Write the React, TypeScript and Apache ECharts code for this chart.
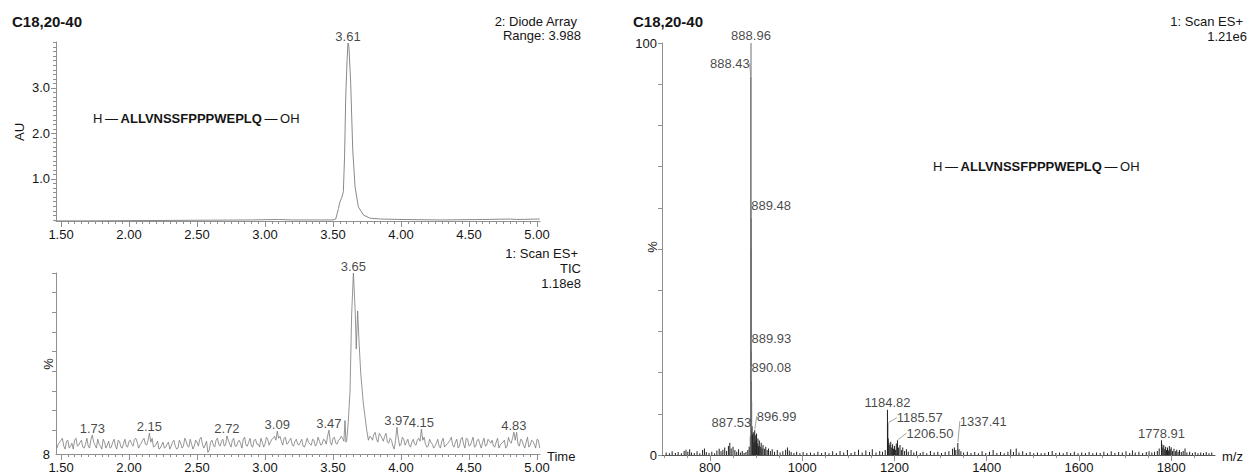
import React, { useEffect, useRef } from 'react';
import * as echarts from 'echarts';

const FONT = '"Liberation Sans", Arial, Helvetica, sans-serif';

// ---------- Top-left: Diode array (AU vs time) ----------
const dadTrace: [number, number][] = [
  [1.47, 0.08], [1.7, 0.08], [2.0, 0.085], [2.3, 0.09], [2.6, 0.095], [2.9, 0.1], [3.1, 0.11],
  [3.2, 0.1], [3.4, 0.1], [3.5, 0.1], [3.52, 0.12], [3.54, 0.35], [3.551, 0.5], [3.565, 0.6],
  [3.576, 0.72], [3.585, 1.5], [3.593, 2.74], [3.603, 3.6], [3.61, 3.988], [3.617, 3.9],
  [3.63, 3.1], [3.645, 1.64], [3.662, 0.83], [3.686, 0.39], [3.723, 0.21], [3.77, 0.14],
  [3.85, 0.12], [4.0, 0.11], [4.3, 0.1], [4.6, 0.11], [4.8, 0.12], [4.85, 0.11], [5.02, 0.12],
];
const dadApex: [number, number][] = [[3.61, 3.988]];

// ---------- Bottom-left: TIC (% vs time) ----------
// even hundredths, from 1.48 in steps of 0.02
const ticEvenStart = 1.48;
const ticEven: (number | null)[] = [
  13, 15, 12, 14.5, 11, 13.5, 15, 12, 14, 11.5,
  13, 12, 15.5, 14, 11, 13, 10.5, 14, 12.5, 11,
  14, 12, 15, 11.5, 13.5, 12, 14.5, 13, 15.5, 14,
  12.5, 15, 13, 15, 14, 11.5, 13, 10.5, 12.5, 11,
  13, 10.5, 14, 12, 11, 13.5, 12, 14.5, 11.5, 13,
  12, 14, 15.5, 13, 12.5, 8.8, 14, 12.5, 15, 13,
  14.5, 12, 16.5, 13, 15, 12, 14, 13.5, 15.5, 12.5,
  14, 12, 15, 13, 11.5, 14, 13, 15.5, 14, 16,
  15, 16, 14.5, 16, 13, 15, 12.5, 14.5, 13, 14,
  12, 13.5, 14, 12.5, 15, 13, 14.5, 13, 15, 17,
  14, 16, 13.5, 15, 17, 14.5, null, null, null, null,
  null, null, null, null, null, 16.5, 18, 15.5, 18.5, 16,
  17, 14, 16, 12, 15, 16, 13, 15.5, 14, 12.5,
  14, 13, 15, 14.5, 15, 13, 12, 14, 11, 13.5,
  12, 14.5, 11.5, 13, 15, 12.5, 14, 11, 15.5, 13,
  16, 12, 14.5, 11.5, 15, 13, 14, 12, 15.5, 13.5,
  12, 14, 11, 13.5, 15, 12, 14.5, 16, 15, 13,
  15.5, 12.5, 14, 11.5, 15, 13, 15.5, 11,
];
// odd hundredths, from 1.47 in steps of 0.02
const ticOddStart = 1.47;
const ticOdd: (number | null)[] = [
  11, 14, 16, 10.5, 15, 12, 10.5, 16, 12.5, 15,
  11, 16, 11, 15, 12.5, 15.5, 12, 15.5, 11, 14.5,
  11.5, 15.5, 10.5, 14.5, 11, 15.5, 11.5, 15, 12, 16,
  11, 13.5, 16, 12.5, 15, 16, 12, 14.5, 11, 14,
  11.5, 14, 12, 15, 10.5, 15, 11, 16, 12, 15.5,
  10.5, 15, 12, 16.5, 11, 14.5, 10, 15, 11.5, 16,
  12, 15.5, 12.5, 15, 11.5, 16, 12, 15, 11, 16.5,
  12, 16, 11.5, 15.5, 13, 16, 11.5, 16.5, 12.5, 15.5,
  17, 13, 17, 12.5, 16.5, 13.5, 16, 12, 15.5, 12.5,
  15.5, 11.5, 16, 13, 15.5, 12, 16.5, 12.5, 15.5, 13,
  15, 12.5, 16.5, 13, 15.5, 16, null, null, null, null,
  null, null, null, null, null, null, 15, 19, 14, 17.5,
  14.5, 18.5, 13.5, 15, 10.5, 20, 12, 16.5, 12.5, 15.5,
  11.5, 15.5, 12.5, 16, 13, 16.5, 11.5, 15.5, 13, 12,
  15.5, 11, 16, 12.5, 14, 16.5, 11.5, 15.5, 12, 16.5,
  11, 15.5, 12.5, 16.5, 12, 15.5, 11, 16, 12.5, 14.5,
  15, 11.5, 16, 12.5, 14, 11, 16.5, 13.5, 17, 19,
  12, 15, 11, 16.5, 12.5, 14.5, 11, 15,
];
const ticTimeStep = 0.02;
const ticPeakShape: [number, number][] = [
  [3.588, 25], [3.595, 14], [3.601, 15], [3.612, 24], [3.625, 40], [3.637, 79],
  [3.664, 79], [3.671, 61.4], [3.681, 80.7], [3.691, 65.6], [3.704, 48.8],
  [3.723, 33.6], [3.748, 20.1], [3.76, 15], [3.77, 17],
];
const ticApex: [number, number][] = [
  [1.73, 17.6], [2.15, 18.6], [2.72, 17.2], [3.09, 19.6], [3.47, 20.1],
  [3.65, 100], [3.97, 21.6], [4.15, 20.6], [4.83, 19.1],
];

// ---------- Right: mass spectrum (% vs m/z) ----------
const msPeaks: [number, number][] = [
  [705, 0.6], [712, 0.4], [718, 0.9], [725, 0.5], [731, 0.7], [738, 0.4], [744, 1.0], [748, 1.3],
  [752, 0.8], [756, 1.4], [760, 0.6], [766, 0.5], [772, 0.9], [778, 0.4], [784, 1.2], [788, 1.6],
  [792, 0.7], [798, 0.5], [804, 0.8], [810, 0.4], [815, 1.1], [820, 1.5], [824, 0.9], [828, 1.3],
  [832, 1.8], [836, 1.0], [840, 2.2], [843, 3.0], [846, 1.6], [850, 2.0], [854, 1.2], [858, 0.8],
  [862, 1.4], [866, 0.6], [870, 1.0], [874, 0.5], [878, 0.7], [882, 1.2], [885, 2.0],
  [887.53, 4.4], [888.43, 91.7], [888.96, 100], [889.1, 50], [889.48, 57.5], [889.93, 25],
  [890.08, 17.7], [890.4, 13], [891.2, 7], [892.5, 5], [894, 5.5], [895.5, 3], [896.99, 6],
  [898.2, 4.8], [899.5, 3.5], [901, 5.2], [902.5, 2.8], [904, 4], [905.5, 2.2], [907, 3.5],
  [909, 2], [911, 3], [913, 1.6], [915, 2.4], [918, 1.5], [921, 2], [924, 1.2], [927, 1.6],
  [931, 1], [935, 1.4], [940, 0.8], [946, 1.2], [952, 0.6], [958, 0.9], [964, 1.3], [968, 1.8],
  [972, 1.1], [976, 0.7], [982, 0.5], [988, 0.8], [995, 0.4], [1002, 0.7], [1010, 0.5],
  [1018, 0.6], [1026, 0.4], [1034, 0.8], [1042, 0.5], [1050, 0.7], [1058, 0.4], [1066, 0.9],
  [1074, 0.5], [1082, 1.0], [1090, 0.6], [1098, 1.2], [1106, 0.5], [1114, 0.8], [1122, 1.3],
  [1130, 0.6], [1138, 1.1], [1146, 0.7], [1152, 1.4], [1160, 0.6], [1168, 1.0], [1174, 0.8],
  [1180, 1.2], [1184.82, 11], [1185.57, 7.8], [1186.5, 4], [1188, 3], [1190, 2.4], [1192, 3.2],
  [1194, 1.8], [1196, 2.6], [1198, 1.5], [1200, 2.2], [1202, 1.3], [1204, 2.8], [1206.5, 3.6],
  [1209, 1.8], [1212, 2.4], [1215, 1.2], [1218, 1.8], [1222, 1], [1226, 1.4], [1230, 0.8],
  [1236, 1.2], [1242, 0.6], [1248, 0.9], [1256, 0.5], [1262, 0.8], [1270, 0.4], [1278, 1.0],
  [1286, 0.6], [1294, 0.8], [1302, 0.5], [1310, 0.7], [1318, 0.9], [1326, 1.5], [1330, 1.8],
  [1333, 1.2], [1337.41, 2.9], [1340, 1.4], [1344, 0.9], [1350, 0.6], [1358, 0.8], [1366, 0.5],
  [1374, 0.7], [1382, 0.4], [1390, 0.9], [1398, 0.5], [1406, 0.8], [1414, 1.2], [1422, 0.5],
  [1430, 0.7], [1438, 0.4], [1446, 0.8], [1452, 1.4], [1458, 0.7], [1464, 1.6], [1470, 0.6],
  [1478, 0.9], [1486, 0.5], [1494, 0.7], [1502, 0.4], [1510, 0.6], [1518, 0.4], [1526, 0.5],
  [1534, 0.7], [1542, 1.0], [1550, 0.5], [1558, 0.6], [1566, 0.4], [1574, 0.7], [1582, 0.5],
  [1590, 0.8], [1598, 0.4], [1606, 0.6], [1614, 0.5], [1622, 0.7], [1630, 0.4], [1638, 0.6],
  [1646, 0.5], [1654, 0.8], [1662, 0.4], [1670, 0.9], [1678, 0.5], [1686, 0.7], [1694, 0.6],
  [1702, 0.9], [1710, 0.5], [1716, 1.1], [1722, 0.6], [1730, 0.8], [1738, 0.5], [1746, 0.7],
  [1752, 0.9], [1758, 0.6], [1764, 0.8], [1770, 1.0], [1774, 1.6], [1778.91, 3.6], [1780, 2.6],
  [1782, 1.8], [1784, 2.4], [1786, 1.4], [1788, 2], [1790, 1.2], [1792, 1.8], [1794, 1.1],
  [1796, 2.2], [1798, 1.4], [1800, 1.9], [1803, 1.0], [1806, 1.5], [1809, 0.9], [1812, 1.3],
  [1815, 0.8], [1818, 1.2], [1822, 0.7], [1826, 1.0], [1830, 1.6], [1834, 0.6], [1840, 0.8],
  [1846, 0.5], [1852, 0.7], [1858, 0.4], [1864, 0.6], [1870, 0.5], [1876, 0.7], [1882, 0.4],
  [1888, 0.6],
];
const msLabelled = [888.96, 888.43, 889.48, 889.93, 890.08, 887.53, 896.99, 1184.82, 1185.57, 1206.5, 1337.41, 1778.91];

// ---------- axis ticks / labels ----------
const timeMajor = [1.5, 2.0, 2.5, 3.0, 3.5, 4.0, 4.5, 5.0];
const auLabels = [1, 2, 3];
const ticPctTicks = [20, 30, 40, 50, 60, 70, 80, 90, 100];
const ticPctLabels = [8];
const msPctTicks = [0, 10, 20, 30, 40, 50, 60, 70, 80, 90, 100];
const msPctLabels = [0, 100];
const mzMajor = [800, 1000, 1200, 1400, 1600, 1800];

// ---------- layout (not data) ----------
const MS_LABEL_LAYOUT = [
  { align: 'center', dx: 0, dy: -8, line: false },
  { align: 'right', dx: -1, dy: -14, line: true },
  { align: 'left', dx: 0, dy: -13, line: true },
  { align: 'left', dx: 0, dy: -14, line: true },
  { align: 'left', dx: 0, dy: -15, line: true },
  { align: 'right', dx: 1, dy: -14, line: true },
  { align: 'left', dx: 2, dy: -14, line: true },
  { align: 'center', dx: 0, dy: -7, line: false },
  { align: 'left', dx: 9, dy: -5, line: true },
  { align: 'left', dx: 9, dy: -7, line: true },
  { align: 'left', dx: 2, dy: -22, line: true },
  { align: 'center', dx: 0, dy: -7, line: false },
];

function steps(a: number, b: number, s: number): number[] {
  const out: number[] = [];
  const n = Math.round((b - a) / s);
  for (let i = 0; i <= n; i++) out.push(Math.round((a + i * s) * 1000) / 1000);
  return out;
}

const AXIS_COLOR = '#8f8f8f';
const TEXT_COLOR = '#151515';
const PEPTIDE = '{r|H\u2009—\u2009}{b|ALLVNSSFPPPWEPLQ}{r|\u2009—\u2009OH}';

export default function App() {
  const ref = useRef<HTMLDivElement>(null);

  useEffect(() => {
    if (!ref.current) return;
    const chart = echarts.init(ref.current, undefined, { renderer: 'svg' });

    const timeMinor = steps(1.5, 5.0, 0.05);
    const auMinor = steps(0.1, 4.0, 0.1);
    const mzMinor = steps(700, 1850, 50);

    // build TIC trace
    const special = [...ticPeakShape, ...ticApex];
    const tic: [number, number][] = [];
    const addNoise = (arr: (number | null)[], start: number) => {
      arr.forEach((v, i) => {
        if (v === null) return;
        const t = Math.round((start + i * ticTimeStep) * 1000) / 1000;
        if (special.some((p) => Math.abs(p[0] - t) < 1e-6)) return;
        tic.push([t, v]);
      });
    };
    addNoise(ticEven, ticEvenStart);
    addNoise(ticOdd, ticOddStart);
    special.forEach((p) => tic.push([p[0], p[1]]));
    tic.sort((a, b) => a[0] - b[0]);

    const msLabelData = msLabelled.map((mz, i) => {
      const pk = msPeaks.find((p) => Math.abs(p[0] - mz) < 1e-6);
      return {
        value: [mz, pk ? pk[1] : 0],
        labelLine: { show: MS_LABEL_LAYOUT[i].line },
      };
    });

    const lineStyle = { color: AXIS_COLOR, width: 1 };
    const labelBase = { fontSize: 13, color: TEXT_COLOR, fontFamily: FONT };

    const timeAxis = (grid: number) => ({
      type: 'value', gridIndex: grid, min: 1.463, max: 5.022, position: 'bottom',
      axisLine: { show: true, onZero: false, lineStyle },
      splitLine: { show: false },
      axisTick: { show: true, customValues: timeMinor, length: 3, lineStyle },
      axisLabel: { ...labelBase, show: true, customValues: timeMajor, margin: 7,
        formatter: (v: number) => v.toFixed(2) },
    });
    const timeMajorAxis = (grid: number) => ({
      type: 'value', gridIndex: grid, min: 1.463, max: 5.022, position: 'bottom',
      axisLine: { show: false, onZero: false }, splitLine: { show: false },
      axisTick: { show: true, customValues: timeMajor, length: 6, lineStyle },
      axisLabel: { show: false },
    });

    const textEl = (text: string, x: number, y: number, align: string, font = `13px ${FONT}`, rotation = 0) => ({
      type: 'text', x, y, rotation,
      style: { text, font, fill: TEXT_COLOR, align, verticalAlign: 'middle' },
    });
    const peptideEl = (x: number, y: number) => ({
      type: 'text', x, y,
      style: {
        text: PEPTIDE, fill: TEXT_COLOR, align: 'left', verticalAlign: 'middle',
        rich: {
          r: { fontSize: 13, fontFamily: FONT, fill: TEXT_COLOR },
          b: { fontSize: 13, fontFamily: FONT, fontWeight: 'bold', fill: TEXT_COLOR },
        },
      },
    });

    const option: any = {
      animation: false,
      backgroundColor: '#ffffff',
      textStyle: { fontFamily: FONT },
      grid: [
        { left: 56, top: 42, width: 484, height: 179 },
        { left: 56, top: 273, width: 484, height: 181 },
        { left: 662, top: 43, width: 553, height: 412 },
      ],
      xAxis: [
        timeAxis(0),
        timeAxis(1),
        {
          type: 'value', gridIndex: 2, min: 696, max: 1895, position: 'bottom',
          axisLine: { show: true, onZero: false, lineStyle: { color: '#555', width: 1 } },
          splitLine: { show: false },
          axisTick: { show: true, customValues: mzMinor, length: 3, lineStyle },
          axisLabel: { ...labelBase, show: true, customValues: mzMajor, margin: 6,
            formatter: (v: number) => String(v) },
        },
        timeMajorAxis(0),
        timeMajorAxis(1),
        {
          type: 'value', gridIndex: 2, min: 696, max: 1895, position: 'bottom',
          axisLine: { show: false, onZero: false }, splitLine: { show: false },
          axisTick: { show: true, customValues: mzMajor, length: 6, lineStyle },
          axisLabel: { show: false },
        },
      ],
      yAxis: [
        {
          type: 'value', gridIndex: 0, min: 0.077, max: 4.01, position: 'left',
          axisLine: { show: true, onZero: false, lineStyle }, splitLine: { show: false },
          axisTick: { show: true, customValues: auMinor, length: 3, lineStyle },
          axisLabel: { ...labelBase, show: true, customValues: auLabels, margin: 6,
            formatter: (v: number) => v.toFixed(1) },
        },
        {
          type: 'value', gridIndex: 1, min: 8, max: 100, position: 'left',
          axisLine: { show: true, onZero: false, lineStyle }, splitLine: { show: false },
          axisTick: { show: true, customValues: ticPctTicks, length: 4, lineStyle },
          axisLabel: { ...labelBase, show: true, customValues: ticPctLabels, margin: 6,
            showMinLabel: true, formatter: (v: number) => String(Math.round(v)) },
        },
        {
          type: 'value', gridIndex: 2, min: 0, max: 100, position: 'left',
          axisLine: { show: true, onZero: false, lineStyle }, splitLine: { show: false },
          axisTick: { show: true, customValues: msPctTicks, length: 4, lineStyle },
          axisLabel: { ...labelBase, show: true, customValues: msPctLabels, margin: 5,
            showMinLabel: true, showMaxLabel: true, formatter: (v: number) => String(v) },
        },
        {
          type: 'value', gridIndex: 0, min: 0.077, max: 4.01, position: 'left',
          axisLine: { show: false, onZero: false }, splitLine: { show: false },
          axisTick: { show: true, customValues: auLabels, length: 5, lineStyle },
          axisLabel: { show: false },
        },
      ],
      series: [
        {
          type: 'line', xAxisIndex: 0, yAxisIndex: 0, data: dadTrace, showSymbol: false,
          lineStyle: { color: '#8a8a8a', width: 1 }, silent: true,
        },
        {
          type: 'scatter', xAxisIndex: 0, yAxisIndex: 0, data: dadApex, symbolSize: 1,
          itemStyle: { color: 'rgba(0,0,0,0)' },
          label: { show: true, position: 'top', distance: 0, ...labelBase,
            formatter: (p: any) => p.value[0].toFixed(2) },
        },
        {
          type: 'line', xAxisIndex: 1, yAxisIndex: 1, data: tic, showSymbol: false,
          lineStyle: { color: '#7a7a7a', width: 0.8 }, silent: true,
        },
        {
          type: 'scatter', xAxisIndex: 1, yAxisIndex: 1, data: ticApex, symbolSize: 1,
          itemStyle: { color: 'rgba(0,0,0,0)' },
          label: { show: true, position: 'top', distance: 0, ...labelBase,
            formatter: (p: any) => p.value[0].toFixed(2) },
        },
        {
          type: 'bar', xAxisIndex: 2, yAxisIndex: 2, data: msPeaks, barWidth: 1,
          itemStyle: { color: (p: any) => (p.value[1] > 12 ? '#6e6e6e' : '#1f1f1f') },
          silent: true,
        },
        {
          type: 'scatter', xAxisIndex: 2, yAxisIndex: 2, data: msLabelData, symbolSize: 2,
          itemStyle: { color: 'rgba(0,0,0,0)' },
          label: { show: true, position: 'top', ...labelBase,
            formatter: (p: any) => p.value[0].toFixed(2) },
          labelLine: { show: true, lineStyle: { color: '#8a8a8a', width: 0.8 } },
          labelLayout: (p: any) => {
            const lay = MS_LABEL_LAYOUT[p.dataIndex];
            const cx = p.rect.x + p.rect.width / 2;
            const cy = p.rect.y + p.rect.height / 2;
            return { x: cx + lay.dx, y: cy + lay.dy, align: lay.align, verticalAlign: 'middle' };
          },
        },
      ],
      graphic: [
        textEl('C18,20-40', 12, 21, 'left', `bold 15px ${FONT}`),
        textEl('C18,20-40', 633, 21, 'left', `bold 15px ${FONT}`),
        textEl('2: Diode Array', 577, 21, 'right'),
        textEl('Range: 3.988', 581, 35, 'right'),
        textEl('1: Scan ES+', 578, 253, 'right'),
        textEl('TIC', 581, 268, 'right'),
        textEl('1.18e8', 581, 283, 'right'),
        textEl('1: Scan ES+', 1243, 21, 'right'),
        textEl('1.21e6', 1247, 36, 'right'),
        textEl('Time', 547, 456, 'left'),
        textEl('m/z', 1222, 456, 'left'),
        textEl('AU', 19, 132, 'center', `13px ${FONT}`, Math.PI / 2),
        textEl('%', 48, 364, 'center', `13px ${FONT}`, Math.PI / 2),
        textEl('%', 652, 247, 'center', `13px ${FONT}`, Math.PI / 2),
        peptideEl(93, 118),
        peptideEl(933, 166),
      ],
    };

    chart.setOption(option);
    return () => chart.dispose();
  }, []);

  return (
    <div
      ref={ref}
      style={{ position: 'fixed', left: 0, top: 0, width: 1249, height: 476, background: '#fff' }}
    />
  );
}
